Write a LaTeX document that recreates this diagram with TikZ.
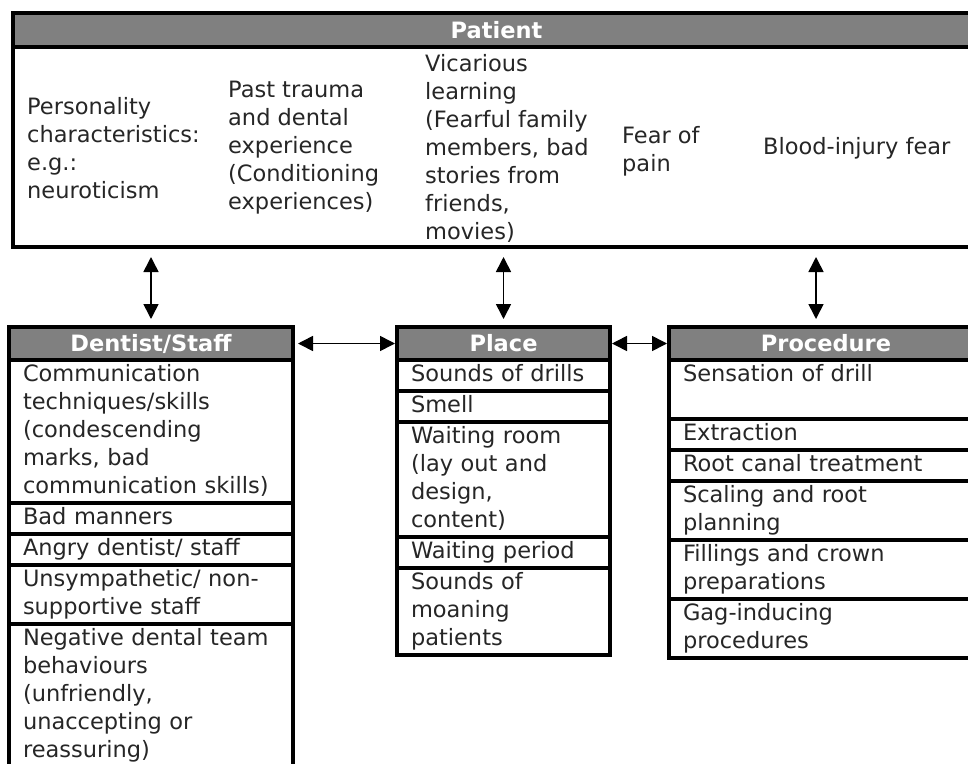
\documentclass[tikz,border=0pt]{standalone}
\usepackage{fontspec}
\setmainfont{DejaVu Sans}
\usepackage{tikz}
\usetikzlibrary{arrows.meta}
\usetikzlibrary{positioning}

\newcommand{\rowfont}{\fontsize{22.5}{28}\selectfont}
\newcommand{\hdfont}{\fontsize{22.5}{28}\selectfont\bfseries}

\tikzset{
   boxhead/.style={draw, line width=3.2pt, fill=black!50, text=white,
      font=\hdfont, minimum height=33pt, inner sep=0pt, outer sep=0pt},
   boxrow/.style={draw, line width=3.2pt, align=left,
      inner xsep=14pt, inner ysep=1.5pt, outer sep=0pt, font=\rowfont,
      text=black!85, execute at begin node=\strut, execute at end node=\strut},
   factor/.style={align=left, anchor=west, inner sep=0pt,
      font=\rowfont, text=black!85},
   link/.style={line width=1.6pt,
      {Triangle[width=15pt,length=15pt]}-{Triangle[width=15pt,length=15pt]}}
}

\begin{document}
\begin{tikzpicture}[x=1pt, y=-1pt]
      \useasboundingbox (0,0) rectangle (968,763);
      \clip (0,0) rectangle (968,763);

      \node (pathead) at (13,13) [boxhead, anchor=north west,
         minimum width=967pt, minimum height=34pt] {Patient};
      \node (patbody) [draw, line width=3.2pt, outer sep=0pt, minimum width=967pt,
         minimum height=200pt, below=0pt of pathead] {};
      \node (f1) at (27,148) [factor] {Personality\\characteristics:\\e.g.:\\neuroticism};
      \node (f2) at (228,148) [factor] {Past trauma\\and dental\\experience\\(Conditioning\\experiences)};
      \node (f3) at (425,148) [factor] {Vicarious\\learning\\(Fearful family\\members, bad\\stories from\\friends,\\movies)};
      \node (f4) at (622,151) [factor] {Fear of\\pain};
      \node (f5) at (763,148) [factor] {Blood-injury fear};

      \node (dhead) at (9,327) [boxhead, anchor=north west,
         minimum width=284pt] {Dentist/Staff};
      \node (d1) [boxrow, text width=256pt, below=0pt of dhead]
         {Communication\\techniques/skills\\(condescending\\marks, bad\\communication skills)};
      \node (d2) [boxrow, text width=256pt, below=0pt of d1] {Bad manners};
      \node (d3) [boxrow, text width=256pt, below=0pt of d2] {Angry dentist/ staff};
      \node (d4) [boxrow, text width=256pt, below=0pt of d3] {Unsympathetic/ non-\\supportive staff};
      \node (d5) [boxrow, text width=256pt, below=0pt of d4]
         {Negative dental team\\behaviours\\(unfriendly,\\unaccepting or\\reassuring)};

      \node (plhead) at (397,327) [boxhead, anchor=north west,
         minimum width=213pt] {Place};
      \node (pl1) [boxrow, text width=185pt, below=0pt of plhead] {Sounds of drills};
      \node (pl2) [boxrow, text width=185pt, below=0pt of pl1] {Smell};
      \node (pl3) [boxrow, text width=185pt, below=0pt of pl2] {Waiting room\\(lay out and\\design,\\content)};
      \node (pl4) [boxrow, text width=185pt, below=0pt of pl3] {Waiting period};
      \node (pl5) [boxrow, text width=185pt, below=0pt of pl4] {Sounds of\\moaning\\patients};

      \node (prhead) at (669,327) [boxhead, anchor=north west,
         minimum width=314pt] {Procedure};
      \node (pr1) [boxrow, text width=286pt, below=0pt of prhead] {Sensation of drill\\ \mbox{}};
      \node (pr2) [boxrow, text width=286pt, below=0pt of pr1] {Extraction};
      \node (pr3) [boxrow, text width=286pt, below=0pt of pr2] {Root canal treatment};
      \node (pr4) [boxrow, text width=286pt, below=0pt of pr3] {Scaling and root\\planning};
      \node (pr5) [boxrow, text width=286pt, below=0pt of pr4] {Fillings and crown\\preparations};
      \node (pr6) [boxrow, text width=286pt, below=0pt of pr5] {Gag-inducing\\procedures};

      \coordinate (prtop) at (816,327);
      \draw [link, shorten <=10pt, shorten >=8pt] (patbody.south -| dhead.north) -- (dhead.north);
      \draw [link, shorten <=10pt, shorten >=8pt] (patbody.south -| plhead.north) -- (plhead.north);
      \draw [link, shorten <=10pt, shorten >=8pt] (patbody.south -| prtop) -- (prtop);
      \draw [link, shorten <=5pt, shorten >=2pt] (dhead.east) -- (plhead.west);
      \draw [link, shorten <=2pt, shorten >=2pt] (plhead.east) -- (prhead.west);
   \end{tikzpicture}
\end{document}
